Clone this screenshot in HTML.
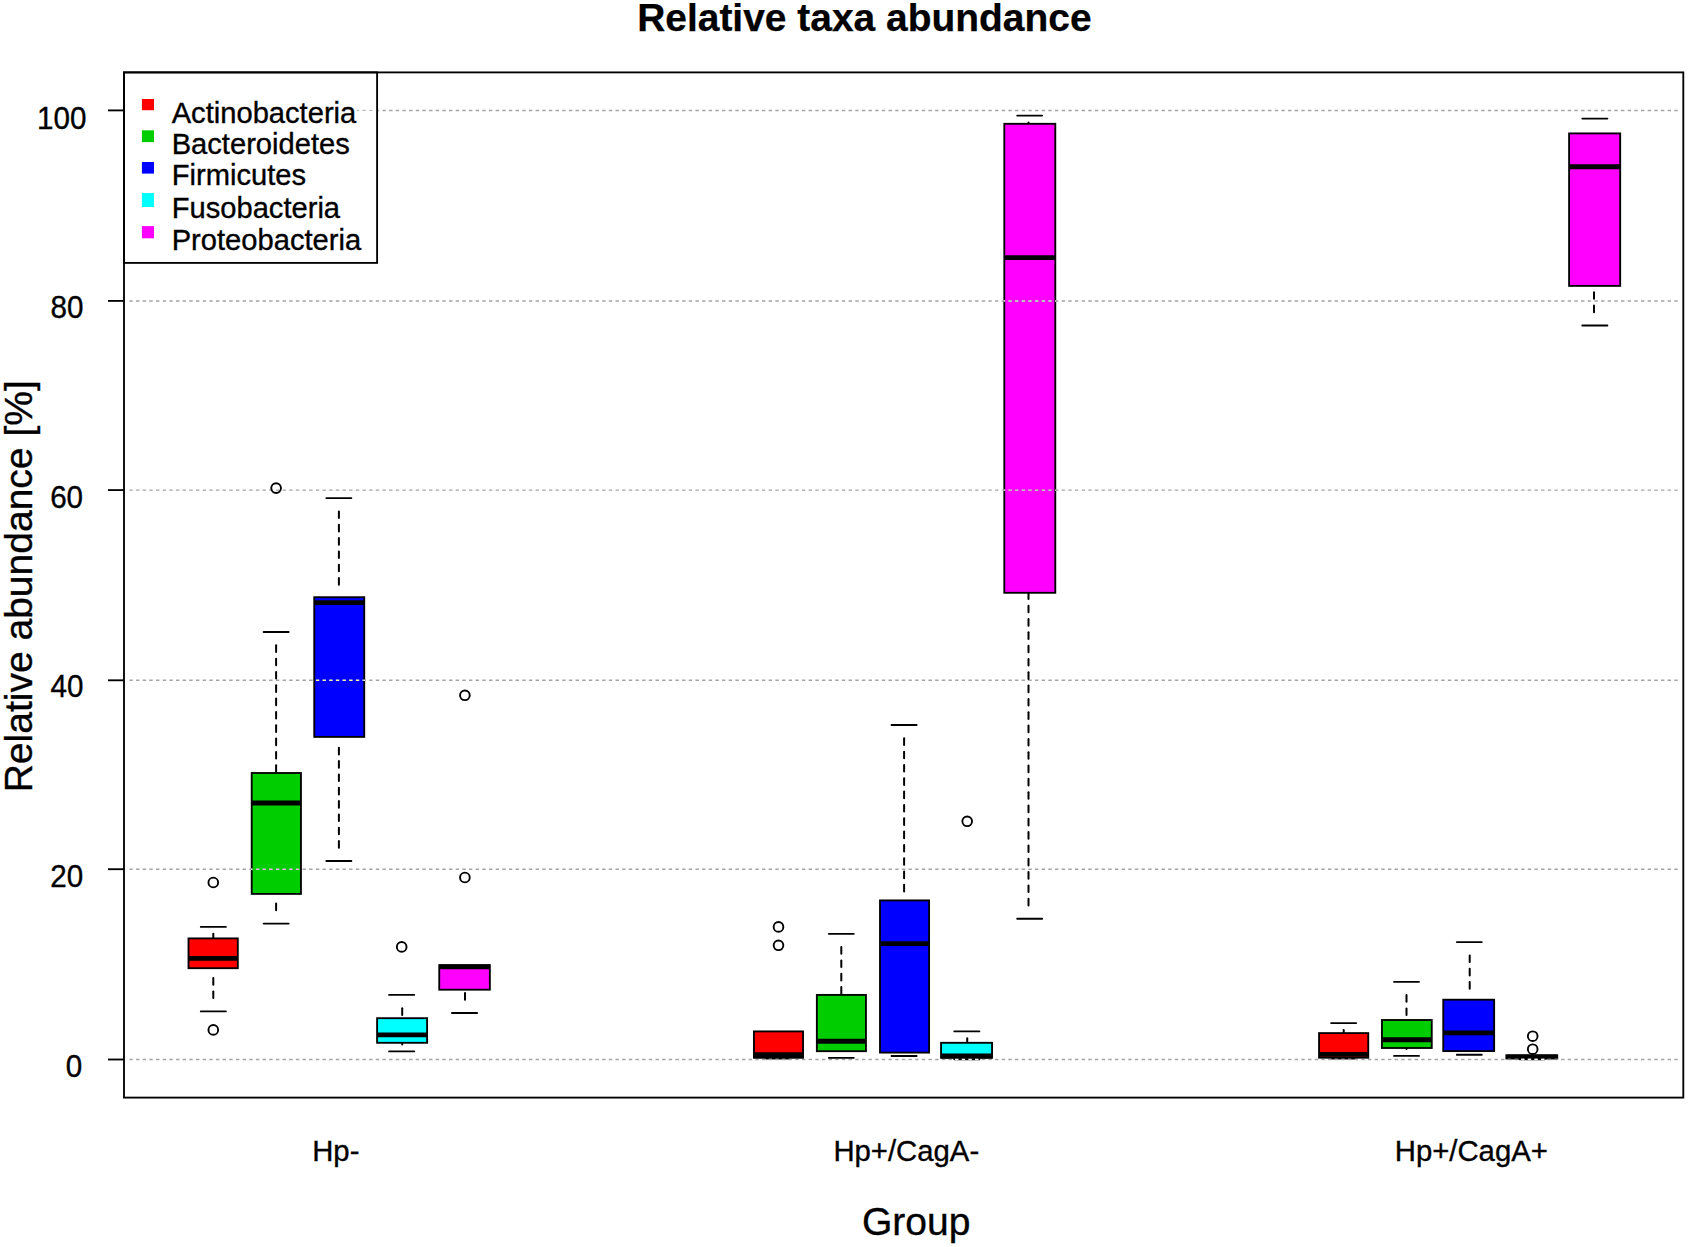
<!DOCTYPE html>
<html lang="en"><head><meta charset="utf-8"><title>Relative taxa abundance</title>
<style>html,body{margin:0;padding:0;background:#fff}body{width:1688px;height:1247px;overflow:hidden}svg{display:block}text{font-family:"Liberation Sans",Arial,Helvetica,sans-serif;fill:#000}.t{font-size:29.3px}.l{font-size:39.03px}text{stroke:#000;stroke-width:0.35px}.k{stroke:#000;stroke-width:1.85;fill:none}.w{stroke:#000;stroke-width:2.0;fill:none;stroke-linecap:round}.s{stroke:#000;stroke-width:1.85;fill:none;stroke-linecap:round}.g{stroke:#a4a4a4;stroke-width:1.45;fill:none;stroke-dasharray:3.38 3.279}.o{stroke:#000;stroke-width:1.9;fill:none}</style></head><body>
<svg width="1688" height="1247" viewBox="0 0 1688 1247">
<rect x="0" y="0" width="1688" height="1247" fill="#fff"/>
<g id="grid">
<path class="g" d="M129.4 110.4H1678.0"/>
<path class="g" d="M129.4 300.9H1678.0"/>
<path class="g" d="M129.4 490.1H1678.0"/>
<path class="g" d="M129.4 680.3H1678.0"/>
<path class="g" d="M129.4 869.2H1678.0"/>
<path class="g" d="M129.4 1059.5H1678.0"/>
</g>
<g id="boxes">
<path class="w" d="M213.3 933.80V938.40"/>
<path class="w" d="M213.3 998.08V991.42"/>
<path class="w" d="M213.3 984.76V978.10"/>
<path class="s" d="M200.8 926.9H225.9"/>
<path class="s" d="M200.8 1011.4H225.9"/>
<rect x="188.50" y="938.4" width="49.30" height="29.8" fill="#FF0000" stroke="#000" stroke-width="1.85"/>
<path d="M188.50 958.4H237.80" stroke="#000" stroke-width="4.9" fill="none"/>
<circle cx="213.3" cy="882.5" r="4.85" class="o"/>
<circle cx="213.3" cy="1029.9" r="4.85" class="o"/>
<path class="w" d="M276.1 645.32V651.98"/>
<path class="w" d="M276.1 658.64V665.30"/>
<path class="w" d="M276.1 671.96V678.62"/>
<path class="w" d="M276.1 685.28V691.94"/>
<path class="w" d="M276.1 698.60V705.26"/>
<path class="w" d="M276.1 711.92V718.58"/>
<path class="w" d="M276.1 725.24V731.90"/>
<path class="w" d="M276.1 738.56V745.22"/>
<path class="w" d="M276.1 751.88V758.54"/>
<path class="w" d="M276.1 765.20V771.86"/>
<path class="w" d="M276.1 910.28V903.62"/>
<path class="s" d="M263.6 632.0H288.7"/>
<path class="s" d="M263.6 923.6H288.7"/>
<rect x="251.70" y="773.0" width="49.25" height="120.9" fill="#00CD00" stroke="#000" stroke-width="1.85"/>
<path d="M251.70 803.0H300.95" stroke="#000" stroke-width="4.9" fill="none"/>
<circle cx="276.1" cy="488.1" r="4.85" class="o"/>
<path class="w" d="M338.9 511.42V518.08"/>
<path class="w" d="M338.9 524.74V531.40"/>
<path class="w" d="M338.9 538.06V544.72"/>
<path class="w" d="M338.9 551.38V558.04"/>
<path class="w" d="M338.9 564.70V571.36"/>
<path class="w" d="M338.9 578.02V584.68"/>
<path class="w" d="M338.9 847.68V841.02"/>
<path class="w" d="M338.9 834.36V827.70"/>
<path class="w" d="M338.9 821.04V814.38"/>
<path class="w" d="M338.9 807.72V801.06"/>
<path class="w" d="M338.9 794.40V787.74"/>
<path class="w" d="M338.9 781.08V774.42"/>
<path class="w" d="M338.9 767.76V761.10"/>
<path class="w" d="M338.9 754.44V747.78"/>
<path class="s" d="M326.3 498.1H351.4"/>
<path class="s" d="M326.3 861.0H351.4"/>
<rect x="314.25" y="597.2" width="50.00" height="139.7" fill="#0000FF" stroke="#000" stroke-width="1.85"/>
<path d="M314.25 602.6H364.25" stroke="#000" stroke-width="4.9" fill="none"/>
<path class="w" d="M402.2 1008.22V1014.88"/>
<path class="w" d="M402.2 1044.50V1042.80"/>
<path class="s" d="M389.1 994.9H414.2"/>
<path class="s" d="M389.1 1051.4H414.2"/>
<rect x="377.10" y="1018.2" width="50.00" height="24.6" fill="#00FFFF" stroke="#000" stroke-width="1.85"/>
<path d="M377.10 1034.9H427.10" stroke="#000" stroke-width="4.9" fill="none"/>
<circle cx="401.7" cy="946.9" r="4.85" class="o"/>
<path class="w" d="M465.0 999.68V993.02"/>
<path class="s" d="M451.9 1013.0H477.1"/>
<rect x="439.25" y="965.1" width="50.60" height="24.6" fill="#FF00FF" stroke="#000" stroke-width="1.85"/>
<path d="M439.25 966.9H489.85" stroke="#000" stroke-width="4.9" fill="none"/>
<circle cx="464.9" cy="695.3" r="4.85" class="o"/>
<circle cx="464.9" cy="877.5" r="4.85" class="o"/>
<path class="s" d="M766.0 1058.6H791.0"/>
<rect x="753.95" y="1031.4" width="49.10" height="26.4" fill="#FF0000" stroke="#000" stroke-width="1.85"/>
<path d="M753.95 1054.6H803.05" stroke="#000" stroke-width="4.9" fill="none"/>
<circle cx="778.5" cy="926.9" r="4.85" class="o"/>
<circle cx="778.5" cy="945.3" r="4.85" class="o"/>
<path class="w" d="M841.3 947.12V953.78"/>
<path class="w" d="M841.3 960.44V967.10"/>
<path class="w" d="M841.3 973.76V980.42"/>
<path class="w" d="M841.3 987.08V993.74"/>
<path class="s" d="M828.8 933.8H853.8"/>
<path class="s" d="M828.8 1057.8H853.8"/>
<rect x="816.85" y="994.9" width="49.10" height="56.3" fill="#00CD00" stroke="#000" stroke-width="1.85"/>
<path d="M816.85 1041.2H865.95" stroke="#000" stroke-width="4.9" fill="none"/>
<path class="w" d="M904.1 738.32V744.98"/>
<path class="w" d="M904.1 751.64V758.30"/>
<path class="w" d="M904.1 764.96V771.62"/>
<path class="w" d="M904.1 778.28V784.94"/>
<path class="w" d="M904.1 791.60V798.26"/>
<path class="w" d="M904.1 804.92V811.58"/>
<path class="w" d="M904.1 818.24V824.90"/>
<path class="w" d="M904.1 831.56V838.22"/>
<path class="w" d="M904.1 844.88V851.54"/>
<path class="w" d="M904.1 858.20V864.86"/>
<path class="w" d="M904.1 871.52V878.18"/>
<path class="w" d="M904.1 884.84V891.50"/>
<path class="s" d="M891.5 725.0H916.6"/>
<path class="s" d="M891.5 1056.0H916.6"/>
<rect x="880.00" y="900.4" width="49.10" height="152.2" fill="#0000FF" stroke="#000" stroke-width="1.85"/>
<path d="M880.00 943.6H929.10" stroke="#000" stroke-width="4.9" fill="none"/>
<path class="w" d="M967.2 1038.30V1042.80"/>
<path class="s" d="M954.3 1031.4H979.4"/>
<path class="s" d="M954.3 1059.3H979.4"/>
<rect x="941.05" y="1042.8" width="51.00" height="15.0" fill="#00FFFF" stroke="#000" stroke-width="1.85"/>
<path d="M941.05 1056.0H992.05" stroke="#000" stroke-width="4.9" fill="none"/>
<circle cx="967.2" cy="821.3" r="4.85" class="o"/>
<path class="w" d="M1028.5 122.50V123.80"/>
<path class="w" d="M1028.5 905.38V898.72"/>
<path class="w" d="M1028.5 892.06V885.40"/>
<path class="w" d="M1028.5 878.74V872.08"/>
<path class="w" d="M1028.5 865.42V858.76"/>
<path class="w" d="M1028.5 852.10V845.44"/>
<path class="w" d="M1028.5 838.78V832.12"/>
<path class="w" d="M1028.5 825.46V818.80"/>
<path class="w" d="M1028.5 812.14V805.48"/>
<path class="w" d="M1028.5 798.82V792.16"/>
<path class="w" d="M1028.5 785.50V778.84"/>
<path class="w" d="M1028.5 772.18V765.52"/>
<path class="w" d="M1028.5 758.86V752.20"/>
<path class="w" d="M1028.5 745.54V738.88"/>
<path class="w" d="M1028.5 732.22V725.56"/>
<path class="w" d="M1028.5 718.90V712.24"/>
<path class="w" d="M1028.5 705.58V698.92"/>
<path class="w" d="M1028.5 692.26V685.60"/>
<path class="w" d="M1028.5 678.94V672.28"/>
<path class="w" d="M1028.5 665.62V658.96"/>
<path class="w" d="M1028.5 652.30V645.64"/>
<path class="w" d="M1028.5 638.98V632.32"/>
<path class="w" d="M1028.5 625.66V619.00"/>
<path class="w" d="M1028.5 612.34V605.68"/>
<path class="w" d="M1028.5 599.02V592.36"/>
<path class="s" d="M1017.2 115.6H1042.2"/>
<path class="s" d="M1017.2 918.7H1042.2"/>
<rect x="1004.30" y="123.8" width="51.00" height="469.0" fill="#FF00FF" stroke="#000" stroke-width="1.85"/>
<path d="M1004.30 257.6H1055.30" stroke="#000" stroke-width="4.9" fill="none"/>
<path class="w" d="M1343.7 1030.00V1033.10"/>
<path class="s" d="M1331.1 1023.1H1356.2"/>
<path class="s" d="M1331.1 1058.6H1356.2"/>
<rect x="1319.05" y="1033.1" width="49.20" height="24.6" fill="#FF0000" stroke="#000" stroke-width="1.85"/>
<path d="M1319.05 1054.4H1368.25" stroke="#000" stroke-width="4.9" fill="none"/>
<path class="w" d="M1406.5 995.12V1001.78"/>
<path class="w" d="M1406.5 1008.44V1015.10"/>
<path class="w" d="M1406.5 1049.00V1048.00"/>
<path class="s" d="M1394.0 981.8H1419.0"/>
<path class="s" d="M1394.0 1055.9H1419.0"/>
<rect x="1381.95" y="1020.0" width="49.80" height="28.0" fill="#00CD00" stroke="#000" stroke-width="1.85"/>
<path d="M1381.95 1039.8H1431.75" stroke="#000" stroke-width="4.9" fill="none"/>
<path class="w" d="M1469.7 955.42V962.08"/>
<path class="w" d="M1469.7 968.74V975.40"/>
<path class="w" d="M1469.7 982.06V988.72"/>
<path class="s" d="M1456.8 942.1H1481.8"/>
<path class="s" d="M1456.8 1054.7H1481.8"/>
<rect x="1443.25" y="999.7" width="50.90" height="51.4" fill="#0000FF" stroke="#000" stroke-width="1.85"/>
<path d="M1443.25 1032.9H1494.15" stroke="#000" stroke-width="4.9" fill="none"/>
<path class="s" d="M1519.5 1059.3H1544.6"/>
<rect x="1506.35" y="1055.3" width="50.90" height="3.1" fill="#00FFFF" stroke="#000" stroke-width="1.85"/>
<path d="M1506.35 1056.9H1557.25" stroke="#000" stroke-width="4.9" fill="none"/>
<circle cx="1532.7" cy="1036.2" r="4.85" class="o"/>
<circle cx="1532.7" cy="1049.2" r="4.85" class="o"/>
<path class="w" d="M1594.0 312.18V305.52"/>
<path class="w" d="M1594.0 298.86V292.20"/>
<path class="s" d="M1582.3 118.6H1607.4"/>
<path class="s" d="M1582.3 325.5H1607.4"/>
<rect x="1569.10" y="133.4" width="51.10" height="152.5" fill="#FF00FF" stroke="#000" stroke-width="1.85"/>
<path d="M1569.10 166.7H1620.20" stroke="#000" stroke-width="4.9" fill="none"/>
</g>
<g id="grid-overlay">
<path d="M250.8 869.2H252.6" stroke="#ffffff" stroke-width="1.45" fill="none" stroke-dasharray="3.38 3.279" stroke-dashoffset="1.51"/>
<path d="M252.6 869.2H300.0" stroke="#ffb4ff" stroke-width="1.45" fill="none" stroke-dasharray="3.38 3.279" stroke-dashoffset="3.36"/>
<path d="M300.0 869.2H301.9" stroke="#ffffff" stroke-width="1.45" fill="none" stroke-dasharray="3.38 3.279" stroke-dashoffset="4.15"/>
<path d="M313.3 680.3H315.2" stroke="#ffffff" stroke-width="1.45" fill="none" stroke-dasharray="3.38 3.279" stroke-dashoffset="4.13"/>
<path d="M315.2 680.3H363.3" stroke="#ffffa8" stroke-width="1.45" fill="none" stroke-dasharray="3.38 3.279" stroke-dashoffset="5.98"/>
<path d="M363.3 680.3H365.2" stroke="#ffffff" stroke-width="1.45" fill="none" stroke-dasharray="3.38 3.279" stroke-dashoffset="0.86"/>
<path d="M1003.4 300.9H1005.2" stroke="#ffffff" stroke-width="1.45" fill="none" stroke-dasharray="3.38 3.279" stroke-dashoffset="1.65"/>
<path d="M1005.2 300.9H1054.4" stroke="#a8ffa8" stroke-width="1.45" fill="none" stroke-dasharray="3.38 3.279" stroke-dashoffset="3.50"/>
<path d="M1054.4 300.9H1056.2" stroke="#ffffff" stroke-width="1.45" fill="none" stroke-dasharray="3.38 3.279" stroke-dashoffset="6.03"/>
<path d="M1003.4 490.1H1005.2" stroke="#ffffff" stroke-width="1.45" fill="none" stroke-dasharray="3.38 3.279" stroke-dashoffset="1.65"/>
<path d="M1005.2 490.1H1054.4" stroke="#a8ffa8" stroke-width="1.45" fill="none" stroke-dasharray="3.38 3.279" stroke-dashoffset="3.50"/>
<path d="M1054.4 490.1H1056.2" stroke="#ffffff" stroke-width="1.45" fill="none" stroke-dasharray="3.38 3.279" stroke-dashoffset="6.03"/>
<path d="M765.0 1059.15H792.0" stroke="#fff" stroke-width="0.75" fill="none" stroke-dasharray="3.38 3.279" stroke-dashoffset="3.02"/>
<path d="M953.4 1059.50H980.4" stroke="#fff" stroke-width="1.45" fill="none" stroke-dasharray="3.38 3.279" stroke-dashoffset="4.97"/>
<path d="M1330.2 1059.15H1357.2" stroke="#fff" stroke-width="0.75" fill="none" stroke-dasharray="3.38 3.279" stroke-dashoffset="2.20"/>
<path d="M1505.4 1059.05H1558.2" stroke="#fff" stroke-width="0.55" fill="none" stroke-dasharray="3.38 3.279" stroke-dashoffset="4.27"/>
<path d="M1518.6 1059.50H1545.6" stroke="#fff" stroke-width="1.45" fill="none" stroke-dasharray="3.38 3.279" stroke-dashoffset="4.15"/>
</g>
<g id="legend">
<rect x="124.0" y="72.4" width="253.1" height="190.5" fill="#fff" stroke="none"/>
<path d="M356.8 110.4H376" stroke="#bdbdbd" stroke-width="1.3" fill="none" stroke-dasharray="3.38 3.279" stroke-dashoffset="0.99"/>
<rect class="k" x="124.0" y="72.4" width="253.1" height="190.5"/>
<rect x="141.9" y="99.0" width="12.1" height="11.2" fill="#FF0000"/>
<text class="t" style="font-size:29.13px" x="171.7" y="122.6">Actinobacteria</text>
<rect x="141.9" y="130.3" width="12.1" height="11.8" fill="#00CD00"/>
<text class="t" style="font-size:29.13px" x="171.7" y="153.6">Bacteroidetes</text>
<rect x="141.9" y="162.0" width="12.1" height="11.6" fill="#0000FF"/>
<text class="t" style="font-size:29.13px" x="171.7" y="184.9">Firmicutes</text>
<rect x="141.9" y="193.1" width="12.1" height="13.9" fill="#00FFFF"/>
<text class="t" style="font-size:29.13px" x="171.7" y="218.1">Fusobacteria</text>
<rect x="141.9" y="226.1" width="12.1" height="12.2" fill="#FF00FF"/>
<text class="t" style="font-size:29.13px" x="171.7" y="249.6">Proteobacteria</text>
</g>
<g id="axes">
<rect class="k" x="124.0" y="72.4" width="1559.3" height="1025.2"/>
<path class="k" d="M108 110.4H124.0"/>
<path class="k" d="M108 300.9H124.0"/>
<path class="k" d="M108 490.1H124.0"/>
<path class="k" d="M108 680.3H124.0"/>
<path class="k" d="M108 869.2H124.0"/>
<path class="k" d="M108 1059.5H124.0"/>
<text class="t" transform="translate(86.5 129.2) scale(1.012 1.045)" text-anchor="end">100</text>
<text class="t" transform="translate(83.5 318.3) scale(1.012 1.045)" text-anchor="end">80</text>
<text class="t" transform="translate(83.1 508.0) scale(1.012 1.045)" text-anchor="end">60</text>
<text class="t" transform="translate(83.4 697.1) scale(1.012 1.045)" text-anchor="end">40</text>
<text class="t" transform="translate(83.3 887.4) scale(1.012 1.045)" text-anchor="end">20</text>
<text class="t" transform="translate(82.3 1076.6) scale(1.012 1.045)" text-anchor="end">0</text>
<text class="t" x="335.8" y="1160.8" text-anchor="middle">Hp-</text>
<text class="t" x="906.3" y="1160.8" text-anchor="middle">Hp+/CagA-</text>
<text class="t" x="1471.3" y="1160.8" text-anchor="middle">Hp+/CagA+</text>
</g>
<g id="titles">
<text class="l" x="916.2" y="1235" text-anchor="middle">Group</text>
<text class="l" transform="translate(31.7 586.3) rotate(-90)" text-anchor="middle">Relative abundance [%]</text>
<text class="l" x="864.4" y="31.1" text-anchor="middle" font-weight="bold" style="font-size:38.95px;stroke-width:0.25px">Relative taxa abundance</text>
</g>
</svg></body></html>
